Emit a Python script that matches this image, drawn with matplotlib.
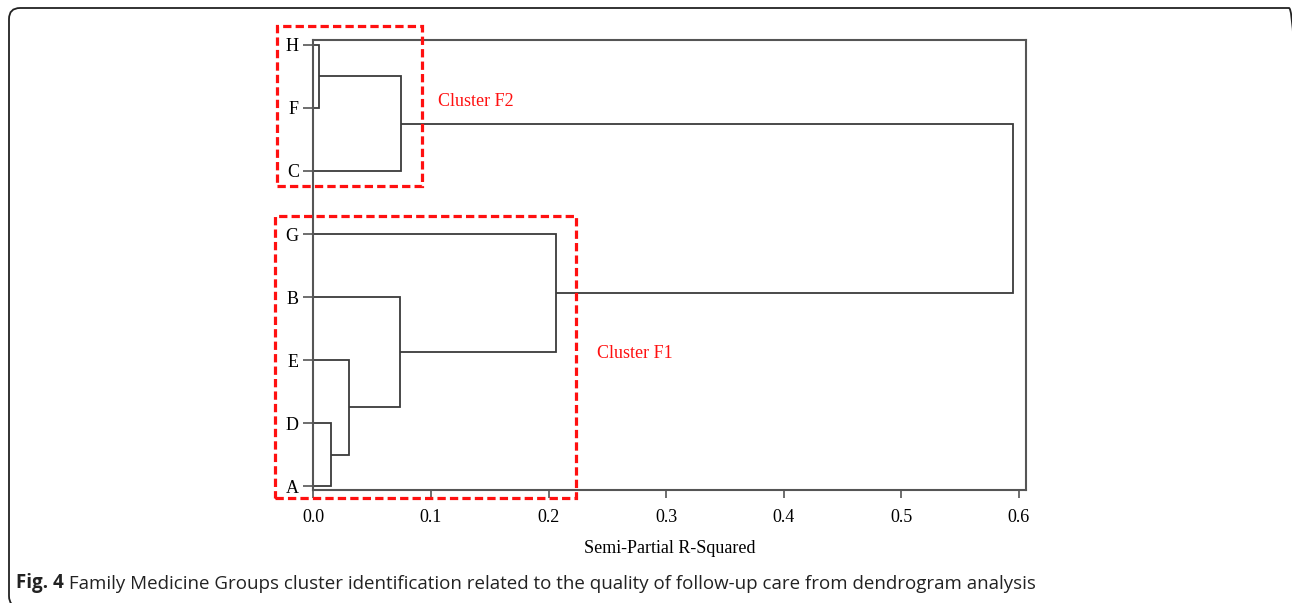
import matplotlib.pyplot as plt
from matplotlib.patches import Rectangle, FancyBboxPatch
from matplotlib.transforms import IdentityTransform

# leaves, bottom to top
leaves = ["A", "D", "E", "B", "G", "C", "F", "H"]

# merges: (left node, right node, semi-partial R-squared)
merges = [
    ("H", "F", 0.005),
    ("HF", "C", 0.0744),
    ("D", "A", 0.0147),
    ("E", "DA", 0.030),
    ("B", "EDA", 0.0736),
    ("G", "BEDA", 0.206),
    ("HFC", "GBEDA", 0.595),
]

x_ticks = [0.0, 0.1, 0.2, 0.3, 0.4, 0.5, 0.6]

W, H = 1292, 603
fig = plt.figure(figsize=(W / 100, H / 100), dpi=100)
plt.rcParams['font.family'] = ['Liberation Serif', 'DejaVu Serif']

ax = fig.add_axes([313.4 / W, 1 - 490 / H, (1026 - 313.4) / W, 450 / H])

line_color = "#3a3a3a"
pos = {name: (0.0, i) for i, name in enumerate(leaves)}
for a, b, h in merges:
    xa, ya = pos[a]
    xb, yb = pos[b]
    ax.plot([xa, h, h, xb], [ya, ya, yb, yb], color=line_color, lw=1.3,
            solid_joinstyle='miter', solid_capstyle='butt')
    pos[a + b] = (h, (ya + yb) / 2)

ax.set_xlim(0, 0.606)
ax.set_ylim(-0.063, 7.079)
ax.set_xticks(x_ticks)
ax.set_xticklabels([f"{v:.1f}" for v in x_ticks])
ax.set_yticks(range(len(leaves)))
ax.set_yticklabels(leaves)
ax.tick_params(axis='x', length=6, width=1.2, color="#555555", labelsize=13, pad=7.5)
ax.tick_params(axis='y', length=7.5, width=1.2, color="#555555", labelsize=13, pad=3)
for s in ax.spines.values():
    s.set_color("#555555")
    s.set_linewidth(1.5)
ax.set_xlabel("Semi-Partial R-Squared", fontsize=13, labelpad=10)

# cluster boxes
red = "#ff1010"
boxes = [(-0.0307, 4.767, 0.0926, 7.306), (-0.0327, -0.195, 0.2233, 4.286)]
for x0, y0, x1, y1 in boxes:
    ax.add_patch(Rectangle((x0, y0), x1 - x0, y1 - y0, fill=False, ec=red,
                           lw=2.3, ls=(0, (2.6, 1.3)), clip_on=False, zorder=5))
ax.text(0.106, 6.11, "Cluster F2", color=red, fontsize=13, va='center', ha='left')
ax.text(0.241, 2.11, "Cluster F1", color=red, fontsize=13, va='center', ha='left')

# outer rounded frame (pixel coordinates, origin bottom-left)
frame = FancyBboxPatch((9, -4), 1291, 599,
                       boxstyle="round,pad=0,rounding_size=11",
                       transform=IdentityTransform(), fill=False, ec="#222222", lw=1.3)
fig.add_artist(frame)

# caption
cap = fig.text(16 / W, 1 - 583 / H, "Fig. 4", fontsize=13.5, fontweight='bold',
               family=['Open Sans', 'DejaVu Sans'], va='center', ha='left', color="#222222")
ax.annotate(" Family Medicine Groups cluster identification related to the quality of "
            "follow-up care from dendrogram analysis",
            xy=(1, 0), xycoords=cap, va='bottom', ha='left', fontsize=13.5,
            family=['Open Sans', 'DejaVu Sans'], color="#222222", annotation_clip=False)

fig.savefig("out.png", dpi=100)
